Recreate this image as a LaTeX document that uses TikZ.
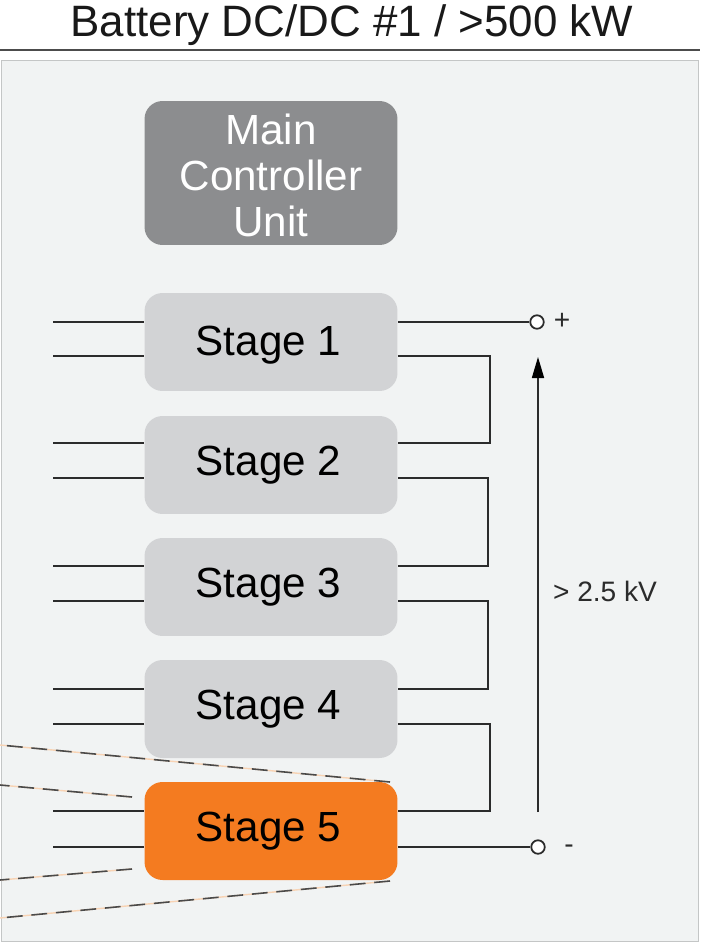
\documentclass[tikz,border=0pt]{standalone}
\usepackage{fontspec}
\setmainfont{Liberation Sans}
\usetikzlibrary{arrows.meta,calc}
\definecolor{panelgray}{HTML}{F1F3F3}
\definecolor{panelline}{HTML}{C4C6C6}
\definecolor{stagegray}{HTML}{D2D3D5}
\definecolor{maingray}{HTML}{8C8D8F}
\definecolor{stageorange}{HTML}{F47B20}
\definecolor{wirecol}{HTML}{2B2B2B}
\definecolor{leadcol}{HTML}{4A4A4A}
\definecolor{dashback}{HTML}{F8D3B4}

\begin{document}
\begin{tikzpicture}[>=Stealth, x=0.02cm, y=-0.02cm]

\tikzset{
  panel/.style={
    draw=panelline,
    line width=0.6pt,
    fill=panelgray,
    inner sep=0pt,
    minimum width=13.94cm,
    minimum height=17.62cm
  },
  stage/.style={
    fill=stagegray,
    align=center,
    inner sep=0pt,
    minimum width=5.06cm,
    minimum height=1.96cm,
    rounded corners=0.36cm,
    text=black,
    text height=0.57cm,
    text depth=0.17cm,
    execute at end node=\hspace*{2.8pt},
    font=\fontsize{24}{26.2}\selectfont
  },
  mainunit/.style={
    fill=maingray,
    align=center,
    inner sep=0pt,
    minimum width=5.06cm,
    minimum height=2.88cm,
    rounded corners=0.36cm,
    text=white,
    font=\fontsize{24}{26.2}\selectfont
  },
  terminal/.style={
    circle,
    draw=wirecol,
    line width=1pt,
    fill=white,
    inner sep=0pt,
    minimum size=0.27cm
  },
  wire/.style={draw=wirecol, line width=0.9pt},
  leader/.style={draw=leadcol, line width=0.9pt, dash pattern=on 9pt off 5pt},
  leaderback/.style={draw=dashback, line width=0.8pt},
  note/.style={inner sep=0pt, font=\fontsize{16}{18}\selectfont, text=wirecol}
}

\useasboundingbox (0,0) rectangle (700,943);

% Heading and frame
\node[inner sep=0pt, font=\fontsize{25}{28}\selectfont, text=black!90] (title) at (352,25) {Battery DC/DC \#1 / >500 kW};
\coordinate (rule-l) at (0,50);
\coordinate (rule-r) at (700,50);
\draw[draw=black!70, line width=0.7pt] (rule-l) -- (rule-r);
\node[panel] (panel) at (350,501) {};

\node[mainunit] (mcu) at (271,173) {\rule{0pt}{20.5pt}Main\\Controller\\Unit};

\node[stage, text height=0.71cm] (s1) at (271,342) {Stage 1};
\node[stage] (s2) at (271,465) {Stage 2};
\node[stage] (s3) at (271,587) {Stage 3};
\node[stage] (s4) at (271,709) {Stage 4};
\node[stage, fill=stageorange] (s5) at (271,831) {Stage 5};

% Input stubs, upper and lower pin of each stage
\foreach \n/\a/\b in {1/322/356,2/443/478,3/566/601,4/689/724,5/811/847} {
  \coordinate (in\n a) at (53,\a);
  \coordinate (in\n b) at (53,\b);
  \draw[wire] (in\n a) -- (s\n.west |- in\n a);
  \draw[wire] (in\n b) -- (s\n.west |- in\n b);
}

% Series links on the right
\foreach \n/\m/\x/\y in {1/2/490/400,2/3/488/522,3/4/488/645,4/5/490/767} {
  \coordinate (bus\n) at (\x,\y);
  \draw[wire] (s\n.east |- in\n b) -| (bus\n) |- (s\m.east |- in\m a);
}

\node[terminal] (plus) at (537,322) {};
\node[terminal] (minus) at (538,847) {};
\draw[wire] (s1.east |- plus) -- (plus);
\draw[wire] (s5.east |- minus) -- (minus);
\node[note] (plus-lab) at (562,321) {+};
\node[note] (minus-lab) at (569,849) {-};

\coordinate (volt-lo) at (538,812);
\coordinate (volt-hi) at (538,357);
\draw[wire, -{Stealth[length=0.42cm,width=0.24cm,inset=0pt,black]}] (volt-lo) -- (volt-hi);
\node[note] (volt) at (605,591) {> 2.5 kV};

% Leaders towards the left edge
\coordinate (fan-a) at (0,745);
\coordinate (fan-b) at (0,785);
\coordinate (fan-c) at (0,880);
\coordinate (fan-d) at (0,918);
\coordinate (fan-a2) at (390,782);
\coordinate (fan-b2) at (132,797);
\coordinate (fan-c2) at (132,869);
\coordinate (fan-d2) at (390,881);
\foreach \c in {a,b,c,d} {
  \draw[leaderback] (fan-\c) -- (fan-\c2);
  \draw[leader] (fan-\c2) -- (fan-\c);
}

\end{tikzpicture}
\end{document}
